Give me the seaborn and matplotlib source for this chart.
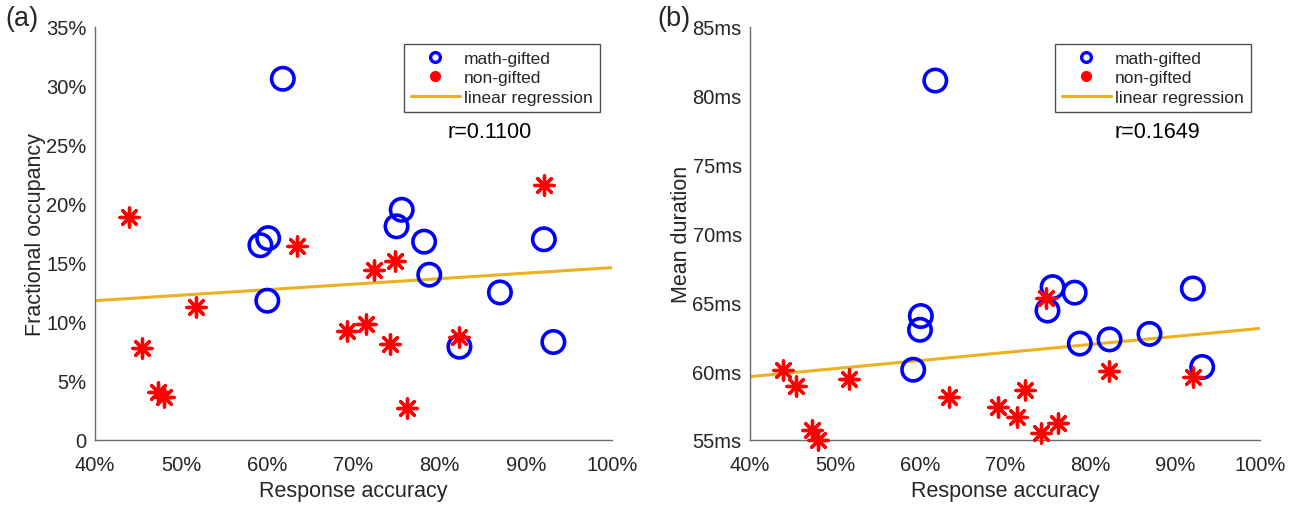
import numpy as np
import pandas as pd
import matplotlib
matplotlib.use("Agg")
import matplotlib.pyplot as plt
import seaborn as sns
from matplotlib.lines import Line2D
from matplotlib.ticker import FixedLocator, FixedFormatter

# ---------------- data ----------------
gifted_acc = [61.8, 59.2, 60.1, 60.0, 75.6, 75.0, 78.2, 78.8, 82.3, 87.0, 92.1, 93.2]
gifted_fo = [30.6, 16.5, 17.1, 11.8, 19.5, 18.1, 16.8, 14.0, 7.9, 12.5, 17.0, 8.3]
gifted_md = [81.1, 60.1, 64.0, 63.0, 66.1, 64.4, 65.7, 62.0, 62.3, 62.7, 66.0, 60.3]

non_acc = [43.9, 45.4, 47.3, 48.0, 51.7, 63.4, 69.2, 71.4, 72.4, 74.2, 74.8, 76.2, 82.2, 92.1]
non_fo = [18.9, 7.8, 4.1, 3.6, 11.3, 16.4, 9.2, 9.8, 14.4, 8.1, 15.2, 2.7, 8.7, 21.6]
non_md = [60.1, 58.9, 55.7, 55.0, 59.4, 58.1, 57.4, 56.7, 58.6, 55.5, 65.3, 56.2, 60.0, 59.6]

reg_x = [40, 100]
reg_fo = [11.8, 14.6]
reg_md = [59.6, 63.1]

r_values = ["r=0.1100", "r=0.1649"]
x_ticks = [40, 50, 60, 70, 80, 90, 100]
x_ticklabels = ["40%", "50%", "60%", "70%", "80%", "90%", "100%"]
fo_ticks = [0, 5, 10, 15, 20, 25, 30, 35]
fo_ticklabels = ["0", "5%", "10%", "15%", "20%", "25%", "30%", "35%"]
md_ticks = [55, 60, 65, 70, 75, 80, 85]
md_ticklabels = ["55ms", "60ms", "65ms", "70ms", "75ms", "80ms", "85ms"]
legend_labels = ["math-gifted", "non-gifted", "linear regression"]

# ---------------- style ----------------
sns.set_style("white")
plt.rcParams['font.family'] = ['Liberation Sans', 'DejaVu Sans']
FS = 14.5
BLUE = (0, 0, 1)
RED = (1, 0, 0)
ORANGE = (0.929, 0.694, 0.125)
AXC = "#6a6a6a"
TXT = "#262626"

fig = plt.figure(figsize=(12.94, 5.06), dpi=100)
ax_a = fig.add_axes([0.0734, 0.1285, 0.3995, 0.8165])
ax_b = fig.add_axes([0.5796, 0.1285, 0.3941, 0.8165])

panels = [
    (ax_a, gifted_fo, non_fo, reg_fo, fo_ticks, fo_ticklabels, "Fractional occupancy", r_values[0], 0.764),
    (ax_b, gifted_md, non_md, reg_md, md_ticks, md_ticklabels, "Mean duration", r_values[1], 0.798),
]

for ax, gy, ny, ry, yt, ytl, ylab, rtxt, rx in panels:
    dfg = pd.DataFrame({"x": gifted_acc, "y": gy})
    dfn = pd.DataFrame({"x": non_acc, "y": ny})
    dfr = pd.DataFrame({"x": reg_x, "y": ry})
    sns.lineplot(data=dfr, x="x", y="y", ax=ax, color=ORANGE, linewidth=2.2, zorder=1)
    sns.scatterplot(data=dfg, x="x", y="y", ax=ax, marker="o", s=260,
                    facecolor="none", edgecolor=BLUE, linewidth=2.6, zorder=3)
    sns.scatterplot(data=dfn, x="x", y="y", ax=ax, marker=(8, 2, 0), s=190,
                    color=RED, edgecolor=RED, linewidth=2.4, zorder=4)

    ax.set_xlim(x_ticks[0], x_ticks[-1])
    ax.set_ylim(yt[0], yt[-1])
    ax.xaxis.set_major_locator(FixedLocator(x_ticks))
    ax.xaxis.set_major_formatter(FixedFormatter(x_ticklabels))
    ax.yaxis.set_major_locator(FixedLocator(yt))
    ax.yaxis.set_major_formatter(FixedFormatter(ytl))
    ax.set_xlabel("Response accuracy", fontsize=FS + 1, color=TXT, labelpad=4)
    ax.set_ylabel(ylab, fontsize=FS + 1, color=TXT, labelpad=0)
    ax.tick_params(axis="both", direction="in", length=4.5, width=1, colors=AXC,
                   labelsize=FS, labelcolor=TXT)
    ax.tick_params(axis="x", pad=11)
    ax.tick_params(axis="y", pad=6)
    for s in ["top", "right"]:
        ax.spines[s].set_visible(False)
    for s in ["left", "bottom"]:
        ax.spines[s].set_color(AXC)
        ax.spines[s].set_linewidth(1)
    for coll in ax.collections:
        coll.set_clip_on(False)

    handles = [
        Line2D([], [], marker="o", linestyle="none", markerfacecolor="none",
               markeredgecolor=BLUE, markeredgewidth=2.4, markersize=7),
        Line2D([], [], marker="o", linestyle="none", color=RED, markersize=7),
        Line2D([], [], color=ORANGE, linewidth=2.2),
    ]
    leg = ax.legend(handles, legend_labels, loc="upper left", bbox_to_anchor=(0.598, 0.959),
                    fontsize=FS - 2, frameon=True, fancybox=False, edgecolor=TXT,
                    handlelength=2.8, handletextpad=0.25, borderpad=0.4, labelspacing=0.25,
                    borderaxespad=0)
    leg.get_frame().set_linewidth(1)
    ax.text(rx, 0.746, rtxt, transform=ax.transAxes, ha="center", va="center",
            fontsize=FS + 1, color="black")

fig.text(0.004, 0.962, "(a)", fontsize=FS + 5, ha="left", va="center")
fig.text(0.508, 0.962, "(b)", fontsize=FS + 5, ha="left", va="center")

fig.savefig("out.png", dpi=100)
